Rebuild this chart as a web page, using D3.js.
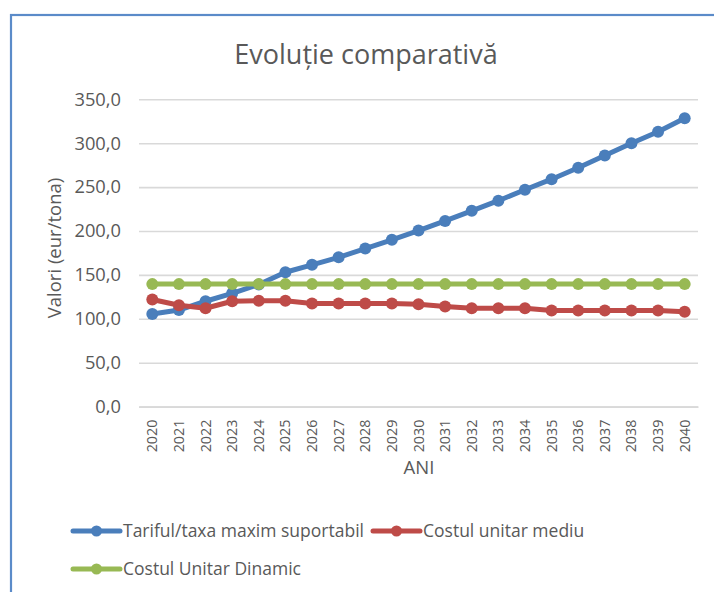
<!DOCTYPE html>
<html>
<head>
<meta charset="utf-8">
<script src="https://cdn.jsdelivr.net/npm/d3@7"></script>
<style>
  body { margin: 0; background: #fff; }
  svg { display: block; }
  text { font-family: "Open Sans", sans-serif; fill: #595959; }
</style>
</head>
<body>
<svg id="chart" width="714" height="592"></svg>
<script>
// Years on the category axis
const years = ["2020","2021","2022","2023","2024","2025","2026","2027","2028","2029","2030",
               "2031","2032","2033","2034","2035","2036","2037","2038","2039","2040"];

// Series values (eur/tona)
const tarifMaxim = [105.5, 110, 120, 129, 139, 153, 161.5, 170, 180, 190, 200.5,
                    211.5, 223, 234.5, 247, 259, 272, 286, 300, 313, 328.5];
const costMediu = [122, 115.5, 112, 120, 120.5, 120.5, 117.5, 117.5, 117.5, 117.5, 116.5,
                   114, 112, 112, 112, 109.5, 109.5, 109.5, 109.5, 109.5, 108];
const costDinamic = [139.5, 139.5, 139.5, 139.5, 139.5, 139.5, 139.5, 139.5, 139.5, 139.5, 139.5,
                     139.5, 139.5, 139.5, 139.5, 139.5, 139.5, 139.5, 139.5, 139.5, 139.5];

// Value axis ticks
const yTickValues = [0, 50, 100, 150, 200, 250, 300, 350];
const yTickLabels = ["0,0", "50,0", "100,0", "150,0", "200,0", "250,0", "300,0", "350,0"];

const seriesNames = ["Tariful/taxa maxim suportabil", "Costul unitar mediu", "Costul Unitar Dinamic"];
const seriesColors = ["#4a7ebb", "#be4b48", "#98b954"];
const seriesData = [tarifMaxim, costMediu, costDinamic];

const svg = d3.select("#chart");
const plot = { left: 139, right: 698, top: 99.3, bottom: 406.6 };

const x = d3.scaleBand().domain(years).range([plot.left, plot.right]).padding(0);
const y = d3.scaleLinear().domain([0, 350]).range([plot.bottom, plot.top]);

// Outer frame (left and top edges visible, the rest runs off the page)
svg.append("rect")
  .attr("x", 11).attr("y", 15)
  .attr("width", 760).attr("height", 640)
  .attr("fill", "none")
  .attr("stroke", "#5b8bc9")
  .attr("stroke-width", 2.2);

// Title
svg.append("text")
  .attr("x", 366).attr("y", 64)
  .attr("text-anchor", "middle")
  .style("font-size", "27px")
  .text("Evoluție comparativă");

// Horizontal gridlines + value labels
const yAxis = d3.axisLeft(y)
  .tickValues(yTickValues)
  .tickFormat((d, i) => yTickLabels[i])
  .tickSize(-(plot.right - plot.left))
  .tickPadding(18);
const gy = svg.append("g").attr("transform", `translate(${plot.left},0)`).call(yAxis);
gy.select(".domain").remove();
gy.selectAll(".tick line").attr("stroke", "#d9d9d9").attr("stroke-width", 1.6);
gy.selectAll(".tick text").style("font-size", "18.3px").attr("fill", "#595959");

// Category labels, rotated
const xAxis = d3.axisBottom(x).tickSize(0).tickPadding(0);
const gx = svg.append("g").attr("transform", `translate(0,${plot.bottom})`).call(xAxis);
gx.select(".domain").attr("stroke", "#d9d9d9").attr("stroke-width", 1.6);
gx.selectAll(".tick text")
  .style("font-size", "14.3px")
  .attr("fill", "#595959")
  .attr("text-anchor", "end")
  .attr("dy", "0.35em")
  .attr("transform", "translate(0,13) rotate(-90)")
  .attr("x", 0).attr("y", 0);

// Axis titles
svg.append("text")
  .attr("x", 419).attr("y", 474)
  .attr("text-anchor", "middle")
  .style("font-size", "18.5px")
  .text("ANI");

svg.append("text")
  .attr("transform", "translate(61,248) rotate(-90)")
  .attr("text-anchor", "middle")
  .style("font-size", "18.5px")
  .text("Valori (eur/tona)");

// Series lines and markers
const line = d3.line()
  .x((d, i) => x(years[i]) + x.bandwidth() / 2)
  .y(d => y(d));

seriesData.forEach((vals, s) => {
  const g = svg.append("g");
  g.append("path")
    .datum(vals)
    .attr("d", line)
    .attr("fill", "none")
    .attr("stroke", seriesColors[s])
    .attr("stroke-width", 5)
    .attr("stroke-linejoin", "round")
    .attr("stroke-linecap", "round");
  g.selectAll("circle")
    .data(vals)
    .join("circle")
    .attr("cx", (d, i) => x(years[i]) + x.bandwidth() / 2)
    .attr("cy", d => y(d))
    .attr("r", 6)
    .attr("fill", seriesColors[s]);
});

// Legend
const legendPos = [[73, 531], [373, 531], [73, 569]];
seriesNames.forEach((name, s) => {
  const [lx, ly] = legendPos[s];
  const g = svg.append("g").attr("transform", `translate(${lx},${ly})`);
  g.append("line")
    .attr("x1", 0).attr("x2", 47).attr("y1", 0).attr("y2", 0)
    .attr("stroke", seriesColors[s]).attr("stroke-width", 5)
    .attr("stroke-linecap", "round");
  g.append("circle").attr("cx", 23.5).attr("cy", 0).attr("r", 5.5).attr("fill", seriesColors[s]);
  g.append("text")
    .attr("x", 50).attr("y", 0).attr("dy", "0.35em")
    .style("font-size", "17.5px")
    .text(name);
});
</script>
</body>
</html>
